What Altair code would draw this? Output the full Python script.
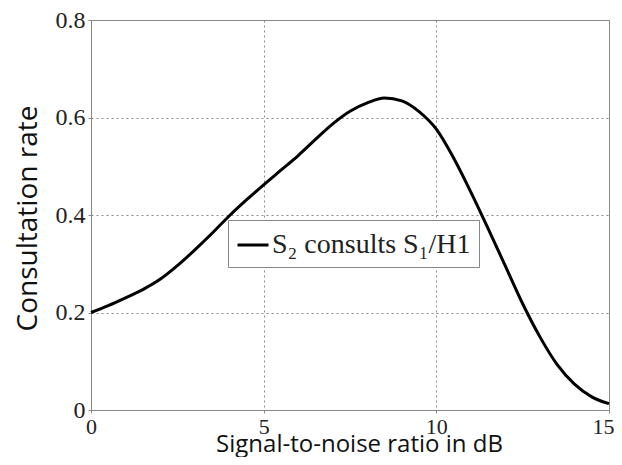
import altair as alt
import pandas as pd

snr_db = [0, 0.5, 1, 1.5, 2, 2.5, 3, 3.5, 4, 4.5, 5, 5.5, 6, 6.5, 7, 7.5, 8, 8.5, 9, 9.5,
          10, 10.5, 11, 11.5, 12, 12.5, 13, 13.5, 14, 14.5, 15]
rate = [0.200, 0.214, 0.230, 0.247, 0.268, 0.296, 0.328, 0.362, 0.398, 0.431, 0.462, 0.492,
        0.522, 0.555, 0.587, 0.613, 0.630, 0.640, 0.634, 0.612,
        0.576, 0.517, 0.447, 0.372, 0.295, 0.218, 0.150, 0.093, 0.053, 0.027, 0.013]
series_name = "S\u2082 consults S\u2081/H1"

x_ticks = [0, 5, 10, 15]
y_ticks = [0, 0.2, 0.4, 0.6, 0.8]

df = pd.DataFrame({"snr": snr_db, "rate": rate, "series": [series_name] * len(snr_db)})

serif = "Liberation Serif"
sans = "Open Sans"

chart = alt.Chart(df).mark_line(strokeWidth=3, interpolate="monotone").encode(
    x=alt.X("snr:Q",
            scale=alt.Scale(domain=[0, 15], nice=False),
            axis=alt.Axis(values=x_ticks, title="Signal-to-noise ratio in dB", format="d",
                          labelFont=serif, labelFontSize=22, labelColor="#222",
                          labelPadding=3, tickSize=3, tickColor="#888",
                          labelOffset={"condition": {"test": "datum.value == 15", "value": -6}, "value": 0},
                          domainColor="#888", gridColor="#888", gridDash=[2, 3],
                          labelFlush=False, labelOverlap=False,
                          titleFont=sans, titleFontSize=24, titleFontWeight="normal",
                          titleColor="#111", titleX=268, titleY=41,
                          titleBaseline="alphabetic", titleAnchor="middle")),
    y=alt.Y("rate:Q",
            scale=alt.Scale(domain=[0, 0.8], nice=False),
            axis=alt.Axis(values=y_ticks, title="Consultation rate",
                          labelExpr="datum.value == 0 ? '0' : format(datum.value, '.1f')",
                          labelFont=serif, labelFontSize=24, labelColor="#222",
                          labelPadding=3, tickSize=3, tickColor="#888",
                          domainColor="#888", gridColor="#888", gridDash=[2, 3],
                          labelFlush=False,
                          titleFont=sans, titleFontSize=28, titleFontWeight="normal",
                          titleColor="#111", titleX=-55, titleY=198,
                          titleBaseline="alphabetic", titleAnchor="middle")),
    color=alt.Color("series:N",
                    scale=alt.Scale(range=["black"]),
                    legend=alt.Legend(title=None, orient="none", legendX=137, legendY=200,
                                      symbolType="stroke", symbolSize=961, symbolStrokeWidth=3,
                                      labelFont=serif, labelFontSize=28, labelColor="#222",
                                      labelLimit=500,
                                      strokeColor="#888", fillColor="white",
                                      padding=8, labelOffset=2)),
).properties(
    width=518,
    height=390,
    autosize=alt.AutoSizeParams(type="none"),
    padding={"left": 83, "top": 12, "right": 5, "bottom": 47},
).configure_view(stroke="#888")

chart.save("out.html", embed_options={"renderer": "svg", "actions": False})
